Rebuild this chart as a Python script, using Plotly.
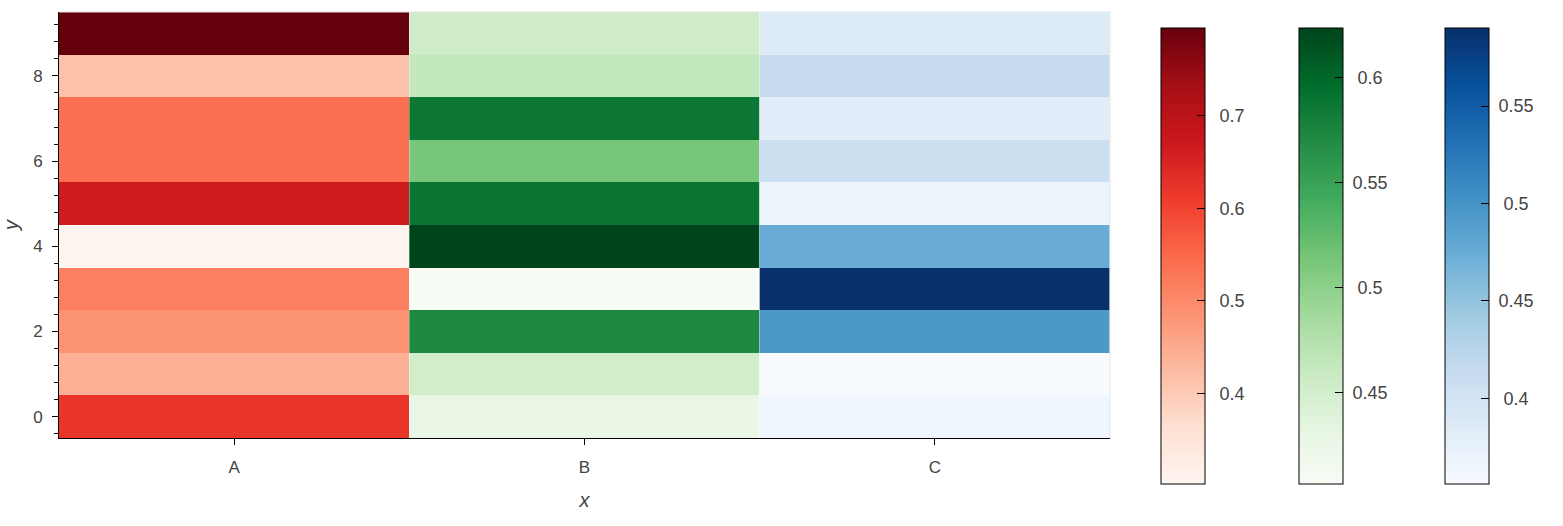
import plotly.graph_objects as go
import plotly.colors as pc

categories = ["A", "B", "C"]
y_vals = list(range(10))

# values per column, y = 0..9
red_vals = [0.622, 0.440, 0.484, 0.514, 0.302, 0.667, 0.539, 0.539, 0.415, 0.795]
green_vals = [0.426, 0.452, 0.572, 0.4066, 0.6235, 0.589, 0.513, 0.587, 0.463, 0.454]
blue_vals = [0.365, 0.356, 0.496, 0.590, 0.475, 0.368, 0.408, 0.382, 0.4145, 0.386]

red_ticks = [0.4, 0.5, 0.6, 0.7]
red_ticktext = ["0.4", "0.5", "0.6", "0.7"]
green_ticks = [0.45, 0.5, 0.55, 0.6]
green_ticktext = ["0.45", "0.5", "0.55", "0.6"]
blue_ticks = [0.4, 0.45, 0.5, 0.55]
blue_ticktext = ["0.4", "0.45", "0.5", "0.55"]

FONT = "Liberation Sans, Arial, Helvetica, sans-serif"
TXT = "#444444"

fig = go.Figure()
for i, (vals, ca) in enumerate([(red_vals, "coloraxis"),
                                (green_vals, "coloraxis2"),
                                (blue_vals, "coloraxis3")]):
    fig.add_trace(go.Heatmap(x=[i], y=y_vals, z=[[v] for v in vals],
                             coloraxis=ca, name=categories[i]))


def pad_label(t):
    # centre-like alignment of colorbar labels
    return ("\u00a0\u00a0" if len(t) <= 3 else "\u00a0") + t


def cbar(xpos, tv, tt):
    return dict(x=xpos, xanchor="left", xpad=0, y=0.427, yanchor="middle", ypad=0,
                len=456, lenmode="pixels", thickness=44, thicknessmode="pixels",
                outlinewidth=1, outlinecolor="black", ticks="inside", ticklen=8,
                tickcolor="black", tickwidth=1, tickvals=tv,
                ticktext=[pad_label(t) for t in tt],
                tickfont=dict(family=FONT, size=18, color=TXT))


fig.update_layout(
    width=1563, height=526,
    margin=dict(l=59, r=453, t=12, b=88),
    paper_bgcolor="white", plot_bgcolor="white",
    font=dict(family=FONT, color=TXT),
    coloraxis=dict(colorscale=pc.sequential.Reds, colorbar=cbar(1.0485, red_ticks, red_ticktext)),
    coloraxis2=dict(colorscale=pc.sequential.Greens, colorbar=cbar(1.1795, green_ticks, green_ticktext)),
    coloraxis3=dict(colorscale=pc.sequential.Blues, colorbar=cbar(1.3188, blue_ticks, blue_ticktext)),
    xaxis=dict(tickvals=[0, 1, 2], ticktext=categories, automargin=False,
               range=[-0.5, 2.5], showgrid=False, zeroline=False,
               showline=True, linecolor="black", linewidth=1,
               ticks="outside", ticklen=6, tickcolor="black", ticklabelstandoff=8,
               tickfont=dict(family=FONT, size=17, color=TXT),
               title=dict(text="<i>x</i>", font=dict(family=FONT, size=20, color=TXT), standoff=16)),
    yaxis=dict(range=[-0.5, 9.5], dtick=2, tick0=0, showgrid=False, zeroline=False,
               automargin=False,
               showline=True, linecolor="black", linewidth=1,
               ticks="outside", ticklen=6, tickcolor="black", ticklabelstandoff=6,
               minor=dict(ticks="outside", ticklen=4, dtick=0.4, tick0=0, tickcolor="black", showgrid=False),
               tickfont=dict(family=FONT, size=17, color=TXT),
               title=dict(text="<i>y</i>", font=dict(family=FONT, size=20, color=TXT), standoff=12)),
    shapes=[
        dict(type="line", xref="paper", yref="paper", x0=0, x1=1, y0=1, y1=1,
             line=dict(color="#e5e5e5", width=1), layer="above"),
        dict(type="line", xref="paper", yref="paper", x0=1, x1=1, y0=0, y1=1,
             line=dict(color="#e5e5e5", width=1), layer="above"),
    ],
)

fig.write_html("out.html")
